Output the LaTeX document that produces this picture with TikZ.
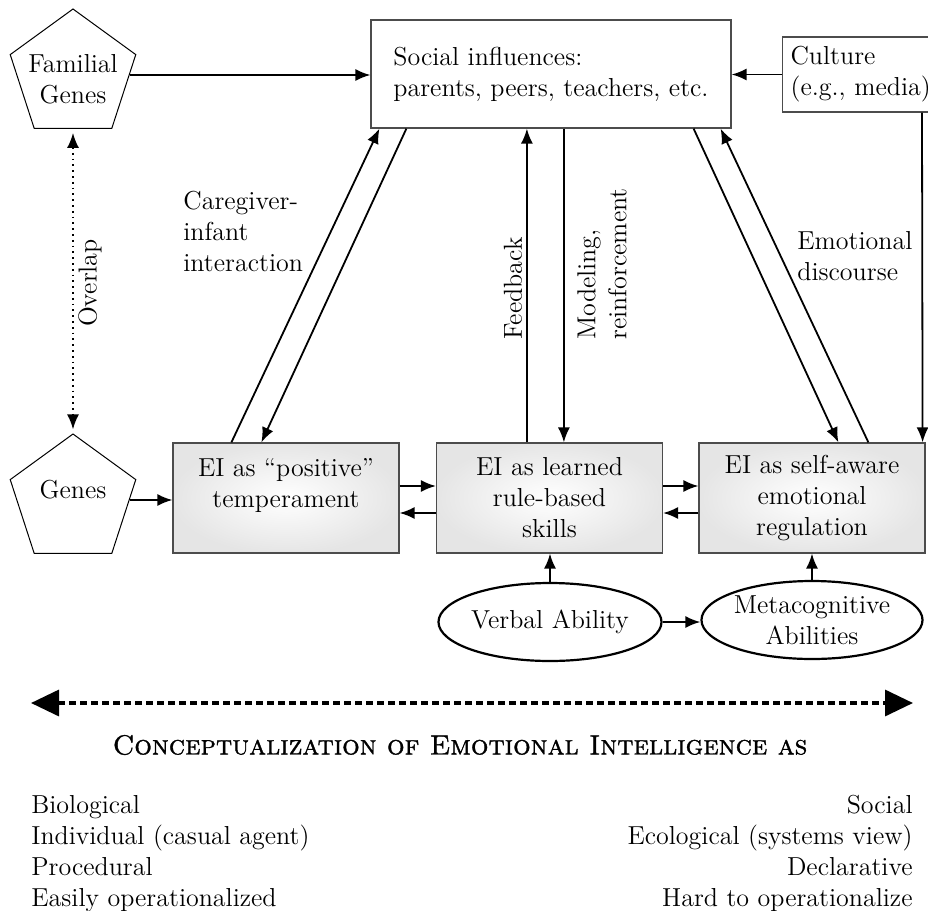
\documentclass[tikz,border=0pt]{standalone}
\usepackage{fontspec}
\newfontfamily\capsfont[FakeBold=1.2]{lmromancaps10-regular.otf}
\usetikzlibrary{arrows.meta,shapes.geometric,positioning}
\begin{document}
\begin{tikzpicture}[x=0.5pt,y=-0.5pt,
  font=\fontsize{13}{15.5}\selectfont,
  >={Latex[length=7.5pt,width=6pt]},
  conn/.style={->,line width=0.9pt},
  genebox/.style={regular polygon,regular polygon sides=5,draw,line width=0.5pt,minimum size=66pt,inner sep=0pt},
  eibox/.style={rectangle,draw=gray!60!black,line width=0.6pt,inner color=white,outer color=gray!20,minimum width=113pt,minimum height=55pt,align=center},
  infobox/.style={rectangle,draw=gray!60!black,line width=0.6pt,align=left},
  ability/.style={ellipse,draw,line width=1.1pt,minimum width=108pt,minimum height=39pt,inner sep=0pt,align=center},
  lbl/.style={inner sep=0pt,align=left}]
 \useasboundingbox (0,0) rectangle (928,911);
 \clip (0,0) rectangle (928,911);
 % sources
 \node[genebox] (famgenes) at (73,75) {};
 \node[align=center,inner sep=0pt] (famtext) at ([yshift=-2pt]famgenes.center) {Familial\\Genes};
 \node[genebox] (genes) at (73,500) {};
 \node[inner sep=0pt] (genestext) at ([yshift=5pt]genes.center) {Genes};
 \node[infobox,minimum width=180pt,minimum height=54pt] (social) at (551,74) {Social influences:\\parents, peers, teachers, etc.};
 \node[infobox,anchor=west,minimum height=37.5pt,inner sep=4pt,text width=90pt] (culture) at (782,74.5) {Culture\\(e.g., media)};
 % the three views of EI
 \node[eibox] (eitemp) at (286,498) {EI as “positive”\\temperament\\\mbox{}};
 \node[eibox] (eirule) at (549.5,498) {EI as learned\\rule-based\\skills};
 \node[eibox] (eiself) at (812,498) {EI as self-aware\\emotional\\regulation};
 \node[ability] (verbal) at (550,622) {Verbal Ability};
 \node[ability] (meta) at (812,620) {Metacognitive\\Abilities};
 % connectors
 \draw[conn] (famgenes.east) -- (famgenes.east -| social.west);
 \draw[conn] (culture.west) -- (culture.west -| social.east);
 \draw[conn] (genes.east) -- (genes.east -| eitemp.west);
 \draw[<->,line width=0.9pt,dotted,shorten <=2pt,shorten >=2pt] (famgenes.south) -- (genes.north);
 \draw[conn] ([xshift=29.5pt]eitemp.north west) -- ([xshift=4.5pt]social.south west);
 \draw[conn] ([xshift=18pt]social.south west) -- ([xshift=44.5pt]eitemp.north west);
 \draw[conn] ([xshift=45.5pt]eirule.north west) -- ([xshift=45.5pt]eirule.north west |- social.south);
 \draw[conn] ([xshift=64pt]eirule.north west |- social.south) -- ([xshift=64pt]eirule.north west);
 \draw[conn] ([xshift=-19pt]social.south east) -- ([xshift=70pt]eiself.north west);
 \draw[conn] ([xshift=85pt]eiself.north west) -- ([xshift=-5.5pt]social.south east);
 \draw[conn] ([xshift=70pt]culture.south west) -- ([xshift=-1.5pt]eiself.north east);
 \draw[conn] ([yshift=6pt]eitemp.east) -- ([yshift=6pt]eirule.west);
 \draw[conn] ([yshift=-7.5pt]eirule.west) -- ([yshift=-7.5pt]eitemp.east);
 \draw[conn] ([yshift=6pt]eirule.east) -- ([yshift=6pt]eiself.west);
 \draw[conn] ([yshift=-7.5pt]eiself.west) -- ([yshift=-7.5pt]eirule.east);
 \draw[conn] (verbal.north) -- (verbal.north |- eirule.south);
 \draw[conn] (meta.north) -- (meta.north |- eiself.south);
 \draw[conn] (verbal.east) -- (verbal.east -| meta.west);
 % labels
 \node[lbl,rotate=90] (overlap) at (90,283) {Overlap};
 \node[lbl,anchor=west] (caregiver) at (183,231) {Caregiver-\\infant\\interaction};
 \node[lbl,rotate=90,anchor=west] (feedback) at (513,340) {Feedback};
 \node[lbl,rotate=90,anchor=west] (modeling) at (602,340) {Modeling,\\reinforcement};
 \node[lbl,anchor=west] (discourse) at (797,256) {Emotional\\discourse};
 % continuum
 \coordinate (leftend) at (31,703);
 \coordinate (rightend) at (913,703);
 \draw[{Triangle[length=14pt,width=13pt]}-{Triangle[length=14pt,width=13pt]},line width=1.7pt,dash pattern=on 3.5pt off 2pt] (leftend) -- (rightend);
 \node[font=\fontsize{13.8}{16}\capsfont\bfseries] (title) at (460,745) {Conceptualization of Emotional Intelligence as};
 \node[lbl,anchor=north west] (bioside) at (31,795) {Biological\\Individual (casual agent)\\Procedural\\Easily operationalized};
 \node[lbl,anchor=north east,align=right] (socside) at (913,795) {Social\\Ecological (systems view)\\Declarative\\Hard to operationalize};
\end{tikzpicture}
\end{document}
